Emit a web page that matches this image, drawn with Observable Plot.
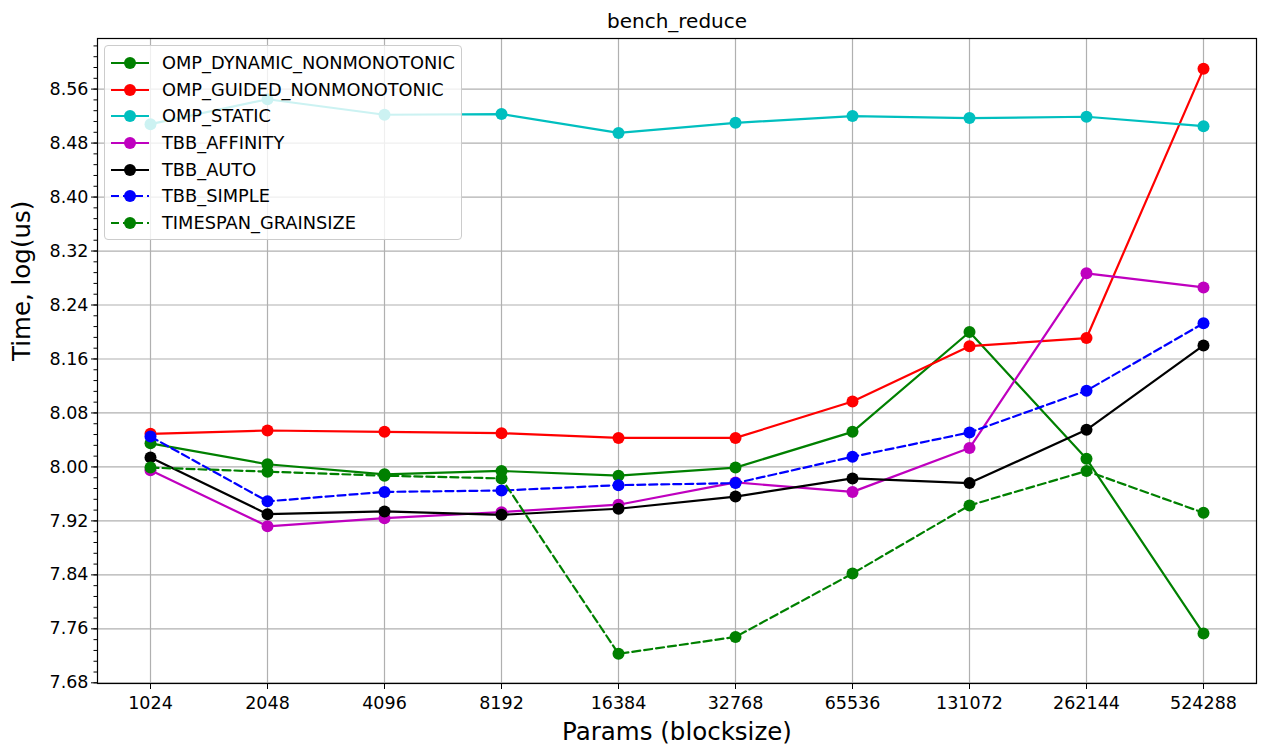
<!DOCTYPE html>
<html>
<head>
<meta charset="utf-8">
<script src="https://cdn.jsdelivr.net/npm/d3@7"></script>
<script src="https://cdn.jsdelivr.net/npm/@observablehq/plot@0.6"></script>
<style>
  html, body { margin: 0; padding: 0; background: #fff; }
  #wrap { position: relative; width: 1262px; height: 745px; font-family: "DejaVu Sans", sans-serif; }
  #legend { position: absolute; left: 104px; top: 45px; width: 358px; height: 195px;
            border: 1px solid #cccccc; border-radius: 4px; background: rgba(255,255,255,0.8); box-sizing: border-box; }
  .row { position: absolute; left: 0; height: 26px; }
  .row svg { position: absolute; left: 5px; top: 3px; }
  .row span { position: absolute; left: 57px; font-size: 17.8px; color: #000; white-space: nowrap; line-height: 26px; top: 0; }
</style>
</head>
<body>
<div id="wrap"><div id="legend"></div></div>
<script>
const xLabels = ["1024","2048","4096","8192","16384","32768","65536","131072","262144","524288"];
const yTicks = [7.68, 7.76, 7.84, 7.92, 8.00, 8.08, 8.16, 8.24, 8.32, 8.40, 8.48, 8.56];

const seriesNames = ["OMP_DYNAMIC_NONMONOTONIC","OMP_GUIDED_NONMONOTONIC","OMP_STATIC","TBB_AFFINITY","TBB_AUTO","TBB_SIMPLE","TIMESPAN_GRAINSIZE"];
const seriesColors = ["#008000","#ff0000","#00bfbf","#bf00bf","#000000","#0000ff","#008000"];
const seriesDashed = [false,false,false,false,false,true,true];

const ompDynamic  = [8.035, 8.004, 7.989, 7.994, 7.987, 7.999, 8.052, 8.200, 8.012, 7.753];
const ompGuided   = [8.049, 8.054, 8.052, 8.050, 8.043, 8.043, 8.097, 8.179, 8.191, 8.590];
const ompStatic   = [8.508, 8.545, 8.522, 8.523, 8.495, 8.510, 8.520, 8.517, 8.519, 8.505];
const tbbAffinity = [7.995, 7.912, 7.924, 7.933, 7.944, 7.977, 7.963, 8.028, 8.287, 8.266];
const tbbAuto     = [8.014, 7.930, 7.934, 7.929, 7.938, 7.956, 7.983, 7.976, 8.055, 8.180];
const tbbSimple   = [8.045, 7.949, 7.963, 7.965, 7.973, 7.976, 8.015, 8.051, 8.113, 8.213];
const timespan    = [7.999, 7.993, 7.987, 7.983, 7.723, 7.748, 7.842, 7.943, 7.994, 7.932];

const seriesValues = [ompDynamic, ompGuided, ompStatic, tbbAffinity, tbbAuto, tbbSimple, timespan];

const yDomain = [7.679, 8.635];
const minorTicks = [];
for (let i = 0; i <= 60; i++) { const v = 7.68 + i * 0.016; if (v <= yDomain[1]) minorTicks.push(+v.toFixed(3)); }

const font = "DejaVu Sans";
const marks = [
  Plot.gridY(yTicks, {stroke: "#b0b0b0", strokeOpacity: 1, strokeWidth: 1.2}),
  Plot.gridX(xLabels, {stroke: "#b0b0b0", strokeOpacity: 1, strokeWidth: 1.2}),
];
seriesNames.forEach((name, si) => {
  const rows = xLabels.map((x, i) => ({x, y: seriesValues[si][i], s: name}));
  marks.push(Plot.line(rows, {x: "x", y: "y", stroke: seriesColors[si], strokeWidth: 2.2,
    strokeDasharray: seriesDashed[si] ? "8,4" : null, curve: "linear"}));
  marks.push(Plot.dot(rows, {x: "x", y: "y", r: 6, fill: seriesColors[si], stroke: "none"}));
});
marks.push(
  Plot.frame({stroke: "#000", strokeWidth: 1.2}),
  Plot.axisY(minorTicks, {tickSize: 3.5, tickFormat: () => "", label: null, stroke: "#000"}),
  Plot.axisY(yTicks, {tickSize: 6, tickFormat: d => d.toFixed(2), fontSize: 17.5, tickPadding: 3, label: null, stroke: "#000"}),
  Plot.axisX(xLabels, {tickSize: 6, fontSize: 17.5, tickPadding: 7, label: null, stroke: "#000"}),
  Plot.text(["bench_reduce"], {frameAnchor: "top", dy: -25, fontSize: 20, fill: "#000"}),
  Plot.text(["Params (blocksize)"], {frameAnchor: "bottom", dy: 56, fontSize: 24.5, fill: "#000"}),
  Plot.text(["Time, log(us)"], {frameAnchor: "left", dx: -75, rotate: -90, fontSize: 24.5, fill: "#000"})
);

const chart = Plot.plot({
  width: 1262, height: 745,
  marginLeft: 97, marginRight: 6, marginTop: 38, marginBottom: 62,
  style: {fontFamily: font, fontSize: "17.5px", color: "#000", background: "#fff", overflow: "visible"},
  x: {type: "point", domain: xLabels, padding: 0.45, axis: null},
  y: {type: "linear", domain: yDomain, axis: null},
  marks
});
document.getElementById("wrap").prepend(chart);

const legend = document.getElementById("legend");
seriesNames.forEach((name, si) => {
  const row = document.createElement("div");
  row.className = "row";
  row.style.top = (4 + si * 26.67) + "px";
  const dash = seriesDashed[si] ? ' stroke-dasharray="8,4"' : '';
  row.innerHTML = `<svg width="44" height="20"><line x1="1" y1="10" x2="39" y2="10" stroke="${seriesColors[si]}" stroke-width="2.2"${dash}/><circle cx="20" cy="10" r="6" fill="${seriesColors[si]}"/></svg><span>${name}</span>`;
  legend.appendChild(row);
});
</script>
</body>
</html>
